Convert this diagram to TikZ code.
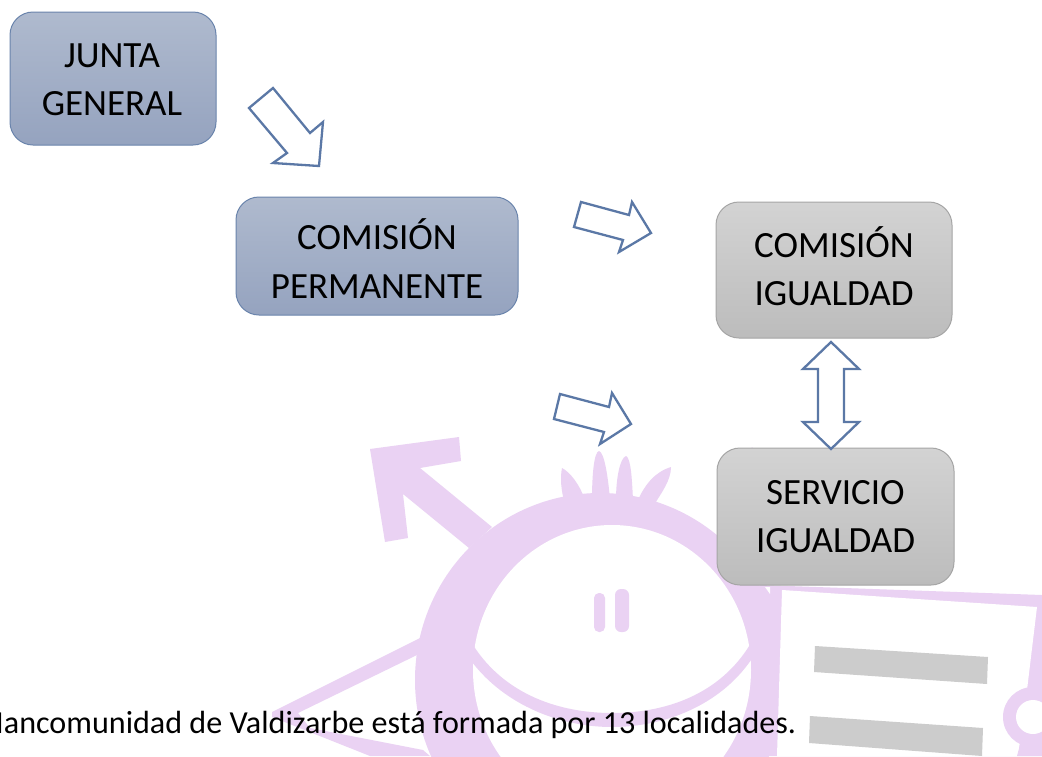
\documentclass[tikz,border=0pt]{standalone}
\usepackage{fontspec}
\setmainfont{Carlito}
\definecolor{wm}{HTML}{EAD2F3}
\definecolor{arrowblue}{HTML}{5B78A6}
\definecolor{bluetop}{HTML}{AFBACE}
\definecolor{bluebot}{HTML}{95A3BF}
\definecolor{blueline}{HTML}{6A84AC}
\definecolor{greytop}{HTML}{D3D3D3}
\definecolor{greybot}{HTML}{BCBCBC}
\definecolor{greyline}{HTML}{A5A5A5}
\definecolor{barcol}{HTML}{CCCCCC}
\tikzset{
  wmfill/.style={fill=wm,draw=none},
  boxbase/.style={rectangle,rounded corners=23pt,inner sep=0pt,line width=1pt},
  bluebox/.style={boxbase,draw=blueline,top color=bluetop,bottom color=bluebot},
  greybox/.style={boxbase,draw=greyline,top color=greytop,bottom color=greybot},
  boxtext/.style={inner sep=0pt,align=center,font=\fontsize{37}{48.5}\selectfont,text=black},
  blockarrow/.style={draw=arrowblue,fill=white,line width=2.3pt,line join=miter,miter limit=4}
}
\begin{document}
\begin{tikzpicture}[x=1pt,y=-1pt]
\clip (0,0) rectangle (1042,756);
\fill[white] (0,0) rectangle (1042,756);
% watermark: male arrow
\fill[wmfill] (370,449) -- (459,437) -- (461,461) -- (420,468) -- (492,527) -- (469,548) -- (403,494) -- (408,538) -- (385,542) -- cycle;
% left triangle
\fill[wmfill] (420,638) -- (272,712) -- (272,717) -- (370,756) -- (430,756) -- (423,750) -- (310,728) -- (298,713) -- (417,655) -- cycle;
% hair
\fill[wmfill] (562,468) .. controls (570,472) and (580,485) .. (585,500) -- (565,505) .. controls (561,490) and (560,478) .. (562,468) -- cycle;
\fill[wmfill] (599,451) .. controls (604,452) and (608,475) .. (610,500) -- (592,500) .. controls (592,475) and (594,452) .. (599,451) -- cycle;
\fill[wmfill] (626,456) .. controls (631,458) and (632,480) .. (633,500) -- (616,500) .. controls (616,478) and (620,458) .. (626,456) -- cycle;
\fill[wmfill] (671,467) .. controls (671,480) and (662,492) .. (654,505) -- (637,502) .. controls (645,484) and (655,472) .. (671,467) -- cycle;
\fill[wmfill] (752,447) -- (757,455) -- (748,455) -- cycle;
% head ring
\fill[wmfill] (600,680) ellipse [x radius=185, y radius=187];
\fill[white] (612,670) ellipse [x radius=139, y radius=145];
% smile
\fill[wmfill] (473,645) .. controls (505,695) and (560,713) .. (612,713) .. controls (665,713) and (720,695) .. (751,643)
  -- (751,660) .. controls (720,705) and (665,727) .. (612,727) .. controls (560,727) and (505,705) .. (472,662) -- cycle;
% eyes
\fill[wmfill,rounded corners=5pt] (594,593) rectangle (605,632);
\fill[wmfill,rounded corners=6pt] (615,589) rectangle (629,632);
% paper
\fill[wmfill] (760,585) -- (1042,595) -- (1042,756) -- (760,756) -- cycle;
\fill[white] (782,590) -- (1037,607) -- (1027,690) -- (1018,756) -- (777,756) -- cycle;
\fill[wmfill] (1033,717) circle [radius=30];
\fill[white] (1033,717) circle [radius=17];
\fill[wmfill] (1020,745) -- (1042,745) -- (1042,756) -- (1017,756) -- cycle;
\fill[white] (765,587) -- (770,587) -- (770,594) -- cycle;
\fill[barcol] (815,646) -- (988,657) -- (987,684) -- (814,672) -- cycle;
\fill[barcol] (810,716) -- (983,728) -- (982,756) -- (809,743) -- cycle;
% boxes
\node[bluebox,minimum width=206pt,minimum height=133pt] (junta) at (113,78.5) {};
\node[bluebox,minimum width=282pt,minimum height=118pt] (perm) at (377,256) {};
\node[greybox,minimum width=236pt,minimum height=136pt] (cig) at (834,270) {};
\node[greybox,minimum width=237pt,minimum height=137pt] (sig) at (835.5,516.5) {};
\node[boxtext] (juntat) at ([yshift=-1.5pt,xshift=-1pt]junta.center) {JUNTA\\GENERAL};
\node[boxtext] (permt) at ([yshift=-2.5pt]perm.center) {COMISIÓN\\PERMANENTE};
\node[boxtext] (cigt) at ([yshift=4pt]cig.center) {COMISIÓN\\IGUALDAD};
\node[boxtext] (sigt) at (sig.center) {SERVICIO\\IGUALDAD};
% block arrows
\draw[blockarrow] (273,88) -- (249,108) -- (287,153) -- (273,163) -- (319,166) -- (323,122) -- (310,133) -- cycle;
\draw[blockarrow] (581,202) -- (574,227) -- (623,240) -- (619,252) -- (651,233) -- (632,202) -- (629,215) -- cycle;
\draw[blockarrow] (560,394) -- (554,419) -- (604,432) -- (600,444) -- (631,424) -- (612,393) -- (609,407) -- cycle;
\draw[blockarrow] (831,342) -- (859,369) -- (844,369) -- (844,422) -- (859,422) -- (831,449) -- (803,422) -- (818,422) -- (818,369) -- (803,369) -- cycle;
% caption
\node[anchor=base west,inner sep=0pt,font=\fontsize{32.1}{38}\selectfont,text=black] (caption) at (-23.7,733) {Mancomunidad de Valdizarbe está formada por 13 localidades.};
\end{tikzpicture}
\end{document}
